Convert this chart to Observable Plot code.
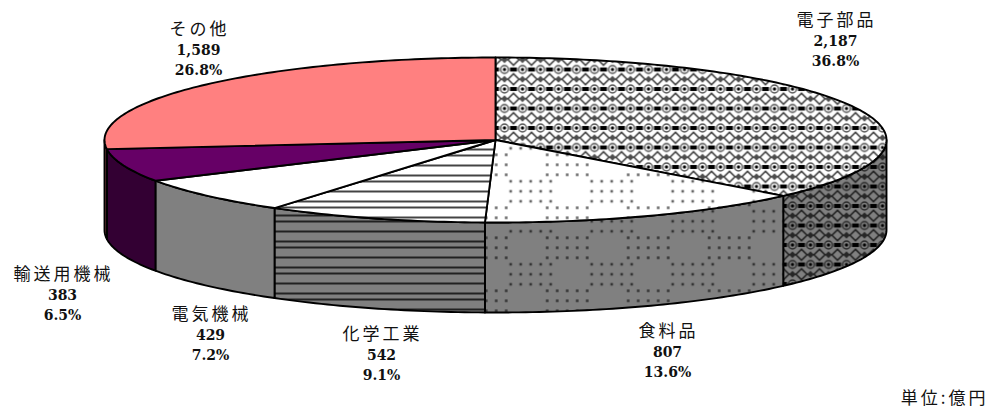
<!DOCTYPE html>
<html><head><meta charset="utf-8">
<script src="https://cdn.jsdelivr.net/npm/d3@7"></script>
<script src="https://cdn.jsdelivr.net/npm/@observablehq/plot@0.6"></script>
<style>
html,body{margin:0;padding:0;background:#fff}
.cjk text{letter-spacing:3px}
</style></head><body><div id="chart"></div>
<script>
const categories = ["電子部品","食料品","化学工業","電気機械","輸送用機械","その他"];
const values = [2187,807,542,429,383,1589];
const valueLabels = ["2,187","807","542","429","383","1,589"];
const shareLabels = ["36.8%","13.6%","9.1%","7.2%","6.5%","26.8%"];
const unitLabel = "単位:億円";

const W=988,H=408,CX=495,CY=139.5,RX=391,RY=82.5,DEPTH=90/82.5;
const total=d3.sum(values);
const topFills=["url(#dTop)","url(#sTop)","url(#hTop)","#ffffff","#660066","#ff8080"];
const sideFills=["url(#dSide)","url(#sSide)","url(#hSide)","#808080","#330033","#804040"];
const labelPos=[[835,20],[667,331],[381,334],[210,314],[62,274],[198,29]];

let acc=0;
const slices=values.map((v,i)=>{const a0=acc/total*360;acc+=v;return{i,a0,a1:acc/total*360};});
const pt=(a,d=0)=>{const r=a*Math.PI/180;return{x:Math.sin(r),y:-Math.cos(r)+d};};
const arc=(a0,a1,d=0)=>{const n=Math.max(2,Math.ceil(a1-a0)+1);return d3.range(n).map(k=>pt(a0+(a1-a0)*k/(n-1),d));};
const topPoly=s=>[{x:0,y:0},...arc(s.a0,s.a1)];
const sidePoly=s=>{const a0=Math.max(s.a0,90),a1=Math.min(s.a1,270);if(a1<=a0)return null;return[...arc(a0,a1),...arc(a0,a1,DEPTH).reverse()];};
const poly=(pts,fill)=>Plot.line(pts,{x:"x",y:"y",fill,stroke:"#000",strokeWidth:1.9,strokeLinejoin:"round",curve:"linear-closed"});
const label=(text,[x,y],font,cls)=>Plot.text([text],{text:d=>d,frameAnchor:"top-left",dx:x,dy:y,textAnchor:"middle",lineAnchor:"middle",fill:"#111",className:cls,...font});
const cjk={fontFamily:"'Noto Sans CJK JP'",fontSize:17};
const num={fontFamily:"'DejaVu Serif'",fontSize:14,fontWeight:"bold"};

const plot=Plot.plot({
  width:W,height:H,margin:0,
  x:{type:"linear",domain:[-CX/RX,(W-CX)/RX],range:[0,W],axis:null},
  y:{type:"linear",domain:[-CY/RY,(H-CY)/RY],range:[0,H],axis:null},
  marks:[
    ...slices.map(s=>{const p=sidePoly(s);return p?poly(p,sideFills[s.i]):null;}).filter(Boolean),
    ...slices.map(s=>poly(topPoly(s),topFills[s.i])),
    ...categories.flatMap((c,i)=>{const [x,y]=labelPos[i];return[
      label(c,[x+1,y],cjk,"cjk"),
      label(valueLabels[i],[x,y+21],num),
      label(shareLabels[i],[x,y+41],num)];}),
    Plot.text([unitLabel],{text:d=>d,frameAnchor:"top-left",dx:988,dy:398,textAnchor:"end",lineAnchor:"middle",fill:"#111",className:"cjk",fontFamily:"'Noto Sans CJK JP'",fontSize:17})
  ]
});
// fill patterns
const defs=d3.select(plot).insert("defs",":first-child");
function diamond(id,bg,fg,ox,oy){
  const w=18,h=19.5;
  const p=defs.append("pattern").attr("id",id).attr("patternUnits","userSpaceOnUse").attr("width",w).attr("height",h).attr("x",ox).attr("y",oy);
  p.append("rect").attr("width",w).attr("height",h).attr("fill",bg);
  // diagonal lattice
  p.append("path").attr("d",`M${w/2},${h/2-5.5}L${w/2+5.5},${h/2}L${w/2},${h/2+5.5}L${w/2-5.5},${h/2}Z`).attr("fill","none").attr("stroke",fg).attr("stroke-opacity",.75).attr("stroke-width",1.6);
  // small grey diamonds on the half rows
  [0,w].forEach(x=>p.append("path").attr("d",`M${x},${h/2-3.5}L${x+3.5},${h/2}L${x},${h/2+3.5}L${x-3.5},${h/2}Z`).attr("fill",fg).attr("fill-opacity",.7));
  // black bars on the full rows
  [0,h].forEach(y=>p.append("rect").attr("x",w/2-3.5).attr("y",y-2).attr("width",7).attr("height",4).attr("fill",fg));
  // rings with a dark centre
  [[0,0],[w,0],[0,h],[w,h]].forEach(([x,y])=>{
    p.append("circle").attr("cx",x).attr("cy",y).attr("r",3.9).attr("fill",bg).attr("stroke",fg).attr("stroke-opacity",.7).attr("stroke-width",1.4);
    p.append("circle").attr("cx",x).attr("cy",y).attr("r",1.7).attr("fill",fg);
  });
}
diamond("dTop","#fff","#000",504,69);
diamond("dSide","#808080","#000",504,69);
function dots(id,bg,fg,oy){
  const w=81,h=53;
  const p=defs.append("pattern").attr("id",id).attr("patternUnits","userSpaceOnUse").attr("width",w).attr("height",h).attr("x",545.2).attr("y",oy);
  p.append("rect").attr("width",w).attr("height",h).attr("fill",bg);
  const add=(x0,y0)=>{for(let i=0;i<5;i++)for(let j=0;j<3;j++){p.append("rect").attr("x",((x0+i*10)%w)-1.3).attr("y",y0+j*10-1.3).attr("width",2.6).attr("height",2.6).attr("fill",fg);}};
  add(1.5,1.5);add(46,28);
}
dots("sTop","#fff","#666",152.8);
dots("sSide","#808080","#333",235.8);
function stripes(id,bg,fg,oy){
  const p=defs.append("pattern").attr("id",id).attr("patternUnits","userSpaceOnUse").attr("width",26).attr("height",26).attr("y",oy);
  p.append("rect").attr("width",26).attr("height",26).attr("fill",bg);
  [1,11,21].forEach(y=>p.append("rect").attr("y",y-1).attr("width",26).attr("height",2).attr("fill",fg));
}
stripes("hTop","#fff","#444",154);
stripes("hSide","#808080","#222",246);
document.getElementById("chart").append(plot);
</script></body></html>
